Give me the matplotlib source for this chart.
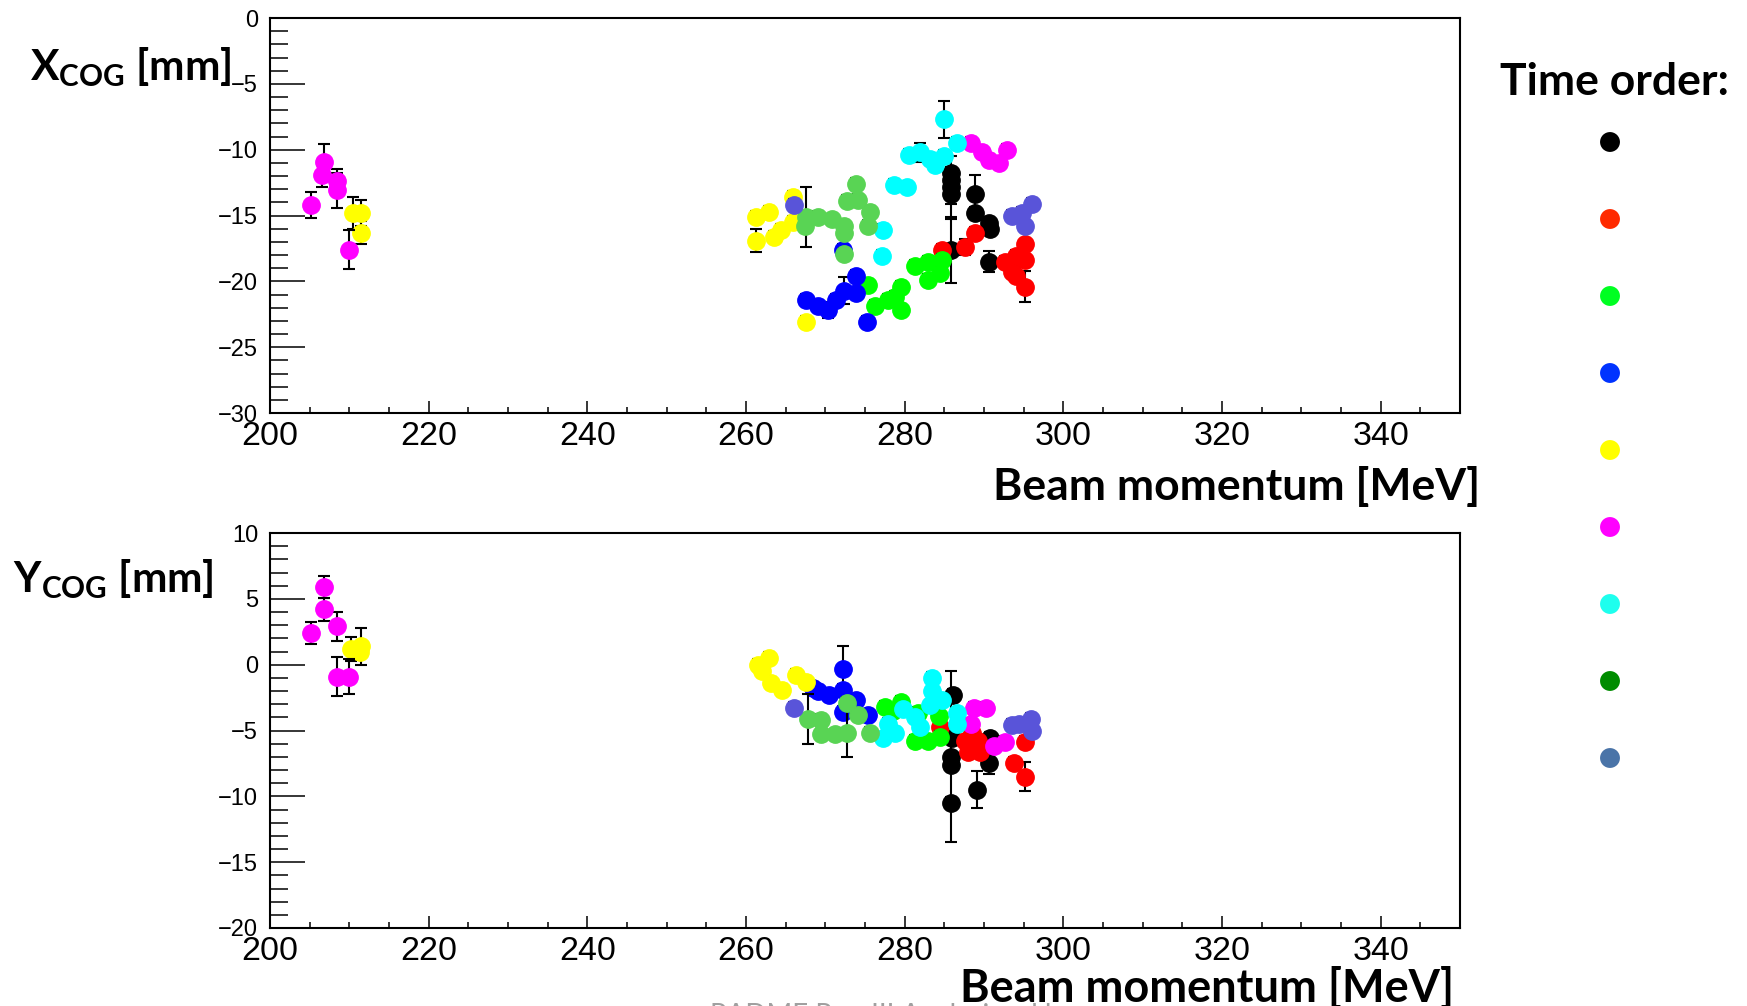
import matplotlib
matplotlib.use('Agg')
import matplotlib.pyplot as plt
import numpy as np
from matplotlib.ticker import MultipleLocator

plt.rcParams['font.family'] = ['Liberation Sans', 'DejaVu Sans']
plt.rcParams['mathtext.fontset'] = 'custom'
plt.rcParams['mathtext.bf'] = 'Lato:bold'
plt.rcParams['mathtext.rm'] = 'Lato'

# run colours in time order (ROOT colours 1..9)
colours = ['#000000', '#ff0000', '#00ff00', '#0000ff', '#ffff00',
           '#ff00ff', '#00ffff', '#59d454', '#5954d9']
legend_colours = ['#000000', '#ff2a00', '#00ff22', '#0033ff', '#ffff00',
                  '#ff00ff', '#1effee', '#008c00', '#4a74a8']

# X_COG points: (beam momentum [MeV], x [mm], error [mm])
x_black = [(285.9, -11.8, 0.45), (285.9, -12.3, 1.8), (285.9, -12.8, 0.45),
           (285.9, -13.4, 1.9), (285.8, -17.6, 2.5), (288.9, -13.4, 1.5),
           (288.9, -14.8, 0.45), (290.6, -15.6, 0.45), (290.8, -16.0, 0.45),
           (290.6, -18.5, 0.8)]
x_red = [(288.9, -16.3, 0.45), (287.6, -17.4, 0.6), (284.7, -17.6, 0.45),
         (292.7, -18.5, 0.45), (294.0, -18.1, 0.45), (295.2, -17.2, 0.45),
         (295.2, -18.4, 0.45), (294.0, -19.6, 0.45), (293.5, -19.3, 0.45),
         (295.2, -20.4, 1.2)]
x_green = [(281.3, -18.8, 0.45), (283.0, -18.5, 0.45), (283.0, -19.9, 0.45),
           (284.7, -18.4, 0.45), (284.5, -19.4, 0.45), (279.6, -20.4, 0.45),
           (279.6, -22.2, 0.45), (277.9, -21.4, 0.45), (276.2, -21.9, 0.45),
           (275.4, -20.3, 0.45), (278.8, -21.2, 0.45)]
x_blue = [(273.9, -19.6, 0.45), (272.4, -20.7, 1.0), (273.9, -20.9, 0.45),
          (267.6, -21.4, 0.45), (269.1, -21.9, 0.45), (270.3, -22.2, 0.6),
          (271.4, -21.4, 0.45), (275.2, -23.1, 0.45), (272.2, -17.6, 0.45)]
x_yellow = [(261.3, -15.1, 0.45), (262.9, -14.7, 0.45), (264.4, -16.1, 0.45),
            (261.3, -16.9, 0.85), (263.5, -16.6, 0.45), (265.9, -13.6, 0.45),
            (265.9, -15.5, 0.45), (267.6, -23.1, 0.45), (210.4, -14.8, 1.2),
            (211.5, -14.8, 1.0), (211.5, -16.3, 0.9)]
x_magenta = [(205.2, -14.2, 1.0), (206.8, -10.9, 1.3), (206.6, -11.9, 0.9),
             (208.5, -12.4, 0.9), (208.5, -13.1, 1.3), (210.0, -17.6, 1.5),
             (288.3, -9.5, 0.45), (289.7, -10.2, 0.45), (290.6, -10.8, 0.45),
             (291.9, -11.0, 0.45), (292.9, -10.0, 0.45)]
x_cyan = [(284.9, -7.7, 1.4), (286.6, -9.5, 0.45), (280.5, -10.4, 0.45),
          (281.9, -10.2, 0.7), (283.2, -10.7, 0.45), (283.8, -11.2, 0.45),
          (284.9, -10.5, 0.45), (278.6, -12.7, 0.45), (280.3, -12.8, 0.45),
          (277.3, -16.1, 0.45), (277.1, -18.1, 0.45)]
x_lgreen = [(273.9, -12.6, 0.45), (267.6, -15.1, 2.3), (269.1, -15.1, 0.45),
            (270.8, -15.3, 0.45), (272.4, -15.8, 0.45), (272.4, -16.3, 0.45),
            (272.7, -13.9, 0.45), (274.1, -13.8, 0.45), (275.6, -14.7, 0.45),
            (275.4, -15.8, 0.45), (272.4, -17.9, 0.45), (267.4, -15.8, 0.45)]
x_slate = [(266.1, -14.2, 0.45), (293.5, -15.0, 0.45), (294.8, -14.8, 0.45),
           (296.1, -14.1, 0.45), (295.2, -15.8, 0.45)]

# Y_COG points: (beam momentum [MeV], y [mm], error [mm])
y_black = [(286.1, -2.3, 0.45), (285.9, -7.0, 6.5), (285.9, -7.6, 0.45),
           (285.9, -10.5, 0.45), (289.1, -9.5, 1.4), (290.6, -7.5, 0.8),
           (290.8, -5.6, 0.45), (286.0, -5.6, 0.45)]
y_red = [(284.5, -4.7, 0.45), (287.6, -5.8, 0.45), (289.3, -5.8, 0.45),
         (288.0, -6.6, 0.45), (289.5, -6.6, 0.45), (295.2, -5.9, 0.45),
         (293.8, -7.5, 0.45), (295.2, -8.5, 1.1), (288.5, -5.2, 0.45)]
y_green = [(277.5, -3.2, 0.45), (279.6, -2.8, 0.45), (281.7, -3.7, 0.45),
           (281.3, -5.8, 0.45), (283.0, -5.8, 0.45), (284.5, -5.5, 0.45),
           (284.3, -3.9, 0.45), (278.5, -3.5, 0.45)]
y_blue = [(272.2, -0.3, 1.7), (269.1, -2.0, 0.45), (270.5, -2.3, 0.45),
          (272.2, -1.9, 0.45), (273.9, -2.7, 0.45), (272.2, -3.6, 0.45),
          (275.4, -3.8, 0.45), (268.5, -1.8, 0.45)]
y_yellow = [(261.5, 0.0, 0.45), (262.9, 0.5, 0.45), (263.2, -1.4, 0.45),
            (264.6, -1.9, 0.45), (266.3, -0.8, 0.45), (267.6, -1.3, 0.45),
            (262.0, -0.5, 0.45), (210.2, 1.2, 0.9), (211.5, 1.4, 1.4),
            (211.3, 1.0, 0.45)]
y_magenta = [(205.2, 2.4, 0.85), (206.8, 5.9, 0.85), (206.8, 4.2, 0.85),
             (208.5, 2.9, 1.1), (208.5, -0.9, 1.5), (210.0, -0.9, 1.3),
             (288.7, -3.3, 0.45), (290.2, -3.3, 0.45), (288.3, -4.5, 0.45),
             (291.2, -6.2, 0.45), (292.7, -5.9, 0.45)]
y_cyan = [(283.4, -1.0, 0.45), (283.5, -2.0, 1.0), (284.7, -2.7, 0.45),
          (283.2, -3.1, 0.45), (286.6, -3.7, 0.45), (286.6, -4.5, 0.45),
          (279.8, -3.4, 0.45), (277.9, -4.5, 0.45), (277.3, -5.6, 0.45),
          (281.9, -4.7, 0.45), (278.8, -5.2, 0.45), (281.3, -4.0, 0.45)]
y_lgreen = [(267.8, -4.1, 1.9), (269.5, -4.2, 0.45), (269.5, -5.3, 0.45),
            (271.2, -5.3, 0.45), (272.7, -5.2, 1.8), (272.7, -2.9, 0.45),
            (274.1, -3.8, 0.45), (275.6, -5.2, 0.45)]
y_slate = [(266.1, -3.3, 0.45), (293.5, -4.6, 0.45), (295.9, -4.1, 0.45),
           (296.1, -5.0, 0.45), (294.4, -4.5, 0.45)]

x_runs = [x_black, x_red, x_green, x_blue, x_yellow, x_magenta, x_cyan, x_lgreen, x_slate]
y_runs = [y_black, y_red, y_green, y_blue, y_yellow, y_magenta, y_cyan, y_lgreen, y_slate]

W, H = 1747, 1006
fig = plt.figure(figsize=(W / 100, H / 100), dpi=100)


def panel(rect, runs, ylim):
    ax = fig.add_axes(rect)
    for i, run in enumerate(runs):
        p = [r[0] for r in run]
        v = [r[1] for r in run]
        e = [r[2] for r in run]
        ax.errorbar(p, v, yerr=e, fmt='none', ecolor='black', elinewidth=1.5,
                    capsize=4.5, capthick=1.5, zorder=2 + 2 * i)
        ax.plot(p, v, 'o', color=colours[i], mec=colours[i], ms=12.5, zorder=3 + 2 * i)
    ax.set_xlim(200, 350)
    ax.set_ylim(*ylim)
    ax.xaxis.set_major_locator(MultipleLocator(20))
    ax.xaxis.set_minor_locator(MultipleLocator(5))
    ax.yaxis.set_major_locator(MultipleLocator(5))
    ax.yaxis.set_minor_locator(MultipleLocator(1))
    ax.tick_params(axis='y', which='major', direction='in', length=25, width=1.1,
                   labelsize=17, pad=8.5)
    ax.tick_params(axis='y', which='minor', direction='in', length=13, width=1.1)
    ax.tick_params(axis='x', which='major', direction='in', length=8.6, width=1.1,
                   labelsize=24.5, pad=6)
    ax.tick_params(axis='x', which='minor', direction='in', length=4.3, width=1.1)
    for s in ax.spines.values():
        s.set_linewidth(1.5)
    return ax


left = 270 / W
width = (1460 - 270) / W
ax1 = panel([left, 1 - 413 / H, width, (413 - 18) / H], x_runs, (-30, 0))
ax2 = panel([left, 1 - 928 / H, width, (928 - 533) / H], y_runs, (-20, 10))

bold = dict(family='Lato', weight='bold', color='black')
fig.text(30 / W, 1 - 80 / H, r'$\mathbf{X}_{\mathbf{COG}}$ [mm]', fontsize=30.5,
         ha='left', va='baseline', zorder=5, **bold)
fig.text(13 / W, 1 - 592 / H, r'$\mathbf{Y}_{\mathbf{COG}}$ [mm]', fontsize=30.5,
         ha='left', va='baseline', **bold)
fig.text(1480 / W, 1 - 500 / H, 'Beam momentum [MeV]', fontsize=32,
         ha='right', va='baseline', **bold)
fig.text(710 / W, 1 - 1003 / H, 'PADME Run III Analysis ad hoc', fontsize=20,
         family='Lato', color='#a0a0a0', ha='left', va='top')
fig.text(1454 / W, 1 - 1002 / H, 'Beam momentum [MeV]', fontsize=32.5,
         ha='right', va='baseline', **bold)
fig.text(1500 / W, 1 - 95 / H, 'Time order:', fontsize=32, ha='left',
         va='baseline', **bold)

# legend dots
leg = fig.add_axes([0, 0, 1, 1], facecolor='none')
leg.set_xlim(0, W)
leg.set_ylim(H, 0)
leg.axis('off')
leg.scatter(np.full(len(legend_colours), 1610), 142 + 77 * np.arange(len(legend_colours)),
            s=205, c=legend_colours, linewidths=0)

fig.savefig('out.png', dpi=100)
